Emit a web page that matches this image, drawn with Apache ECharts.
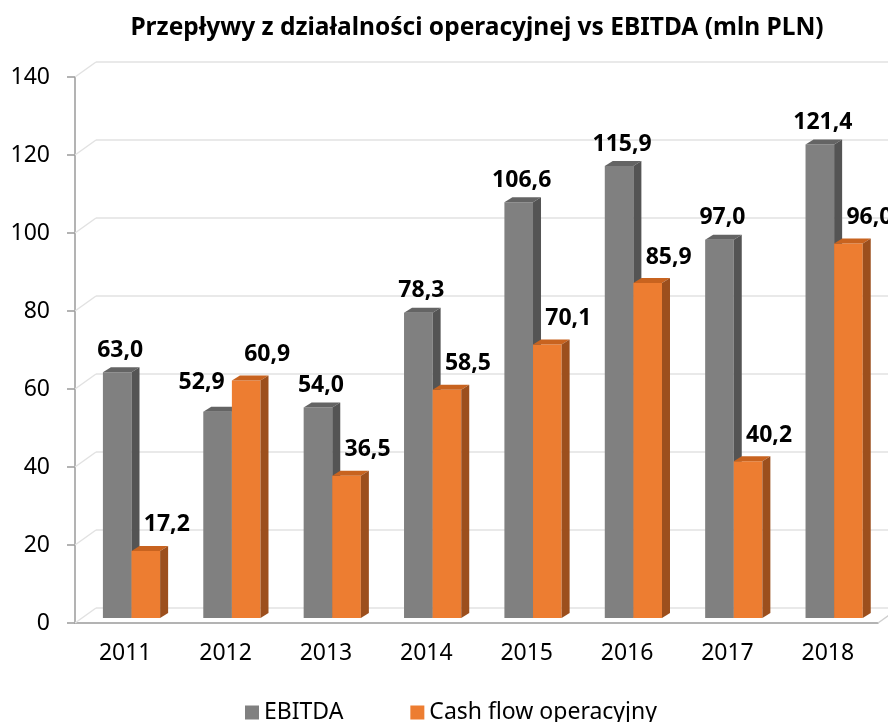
<!DOCTYPE html>
<html>
<head>
<meta charset="utf-8">
<script src="https://cdn.jsdelivr.net/npm/echarts@6/dist/echarts.min.js"></script>
<style>
  html, body { margin: 0; padding: 0; background: #fff; }
  #chart { width: 888px; height: 722px; }
</style>
</head>
<body>
<div id="chart"></div>
<script>
// dane (mln PLN)
const years = ['2011', '2012', '2013', '2014', '2015', '2016', '2017', '2018'];
const ebitda = [63.0, 52.9, 54.0, 78.3, 106.6, 115.9, 97.0, 121.4];
const cashFlow = [17.2, 60.9, 36.5, 58.5, 70.1, 85.9, 40.2, 96.0];
const yTicks = [0, 20, 40, 60, 80, 100, 120, 140];

const FONT = '"Noto Sans", "Open Sans", sans-serif';
const DEPTH_X = 21, DEPTH_Y = 15;   // wall offset
const BAR_DX = 8, BAR_DY = 5;       // bar depth

function fmt(v) {
  return v.toFixed(1).replace('.', ',');
}

// 3d-ish bar: front, top, side + label
function barRenderer(side, colors, labelDx, labelDy) {
  return function (params, api) {
    const i = api.value(0);
    const v = api.value(1);
    const top = api.coord([i, v]);
    const base = api.coord([i, 0]);
    const band = api.size([1, 0])[0];
    const w = band * 0.285;
    const shift = band * 0.063;
    const lift = 5;
    const x0 = side === 'left' ? top[0] + shift - w : top[0] + shift;
    const x1 = x0 + w;
    const yt = top[1] - lift;
    const yb = base[1] - lift;
    let ldx = labelDx, ldy = labelDy;
    if (side === 'left' && years[i] === '2012') { ldx = -16; ldy = -29; }
    return {
      type: 'group',
      children: [
        { type: 'rect', shape: { x: x0, y: yt, width: w, height: yb - yt }, style: { fill: colors[0] } },
        { type: 'polygon', shape: { points: [[x0, yt], [x1, yt], [x1 + BAR_DX, yt - BAR_DY], [x0 + BAR_DX, yt - BAR_DY]] }, style: { fill: colors[1] } },
        { type: 'polygon', shape: { points: [[x1, yt], [x1 + BAR_DX, yt - BAR_DY], [x1 + BAR_DX, yb - BAR_DY], [x1, yb]] }, style: { fill: colors[2] } },
        {
          type: 'text', z2: 10,
          style: {
            text: fmt(v), x: (x0 + x1) / 2 + ldx, y: yt + ldy,
            align: 'center', verticalAlign: 'middle',
            font: 'bold 23px ' + FONT, fill: '#000'
          }
        }
      ]
    };
  };
}

const chart = echarts.init(document.getElementById('chart'));

const option = {
  backgroundColor: '#fff',
  animation: false,
  title: {
    text: 'Przepływy z działalności operacyjnej vs EBITDA (mln PLN)',
    left: 472,
    top: 11,
    textAlign: 'center',
    textStyle: { fontFamily: FONT, fontSize: 24.5, fontWeight: 'bold', color: '#000' }
  },
  legend: {
    data: ['EBITDA', 'Cash flow operacyjny'],
    left: 240,
    top: 696,
    icon: 'rect',
    itemWidth: 14,
    itemHeight: 14,
    itemGap: 67,
    textStyle: { fontFamily: FONT, fontSize: 23, color: '#000' }
  },
  grid: [
    { left: 75, right: 10, top: 77, bottom: 99 },
    { left: 75 + DEPTH_X, right: 10 - DEPTH_X, top: 77 - DEPTH_Y, bottom: 99 + DEPTH_Y }
  ],
  xAxis: [
    {
      type: 'category', gridIndex: 0, data: years,
      axisLine: { lineStyle: { color: '#9a9a9a', width: 1.5 } },
      axisTick: { length: 6, lineStyle: { color: '#9a9a9a', width: 1.5 } },
      axisLabel: { fontFamily: FONT, fontSize: 23, color: '#000', margin: 19 }
    },
    { type: 'category', gridIndex: 1, data: years, show: false }
  ],
  yAxis: [
    {
      type: 'value', gridIndex: 0, min: 0, max: 140, interval: 20,
      axisLine: { show: true, lineStyle: { color: '#9a9a9a', width: 1.5 } },
      axisTick: { show: true, length: 8, lineStyle: { color: '#9a9a9a', width: 1.5 } },
      axisLabel: { fontFamily: FONT, fontSize: 23, color: '#000', margin: 25 },
      splitLine: { show: false }
    },
    {
      type: 'value', gridIndex: 1, min: 0, max: 140, interval: 20,
      axisLine: { show: false }, axisTick: { show: false }, axisLabel: { show: false },
      splitLine: { lineStyle: { color: '#e2e2e2', width: 1.5 } }
    }
  ],
  series: [
    {
      // wall / floor connectors
      type: 'custom', xAxisIndex: 0, yAxisIndex: 0, silent: true, z: 1,
      data: yTicks.map(function (t) { return [0, t]; }),
      encode: { x: 0, y: 1 },
      renderItem: function (params, api) {
        const cs = params.coordSys;
        const y = api.coord([0, api.value(1)])[1];
        const children = [{
          type: 'line',
          shape: { x1: cs.x, y1: y, x2: cs.x + DEPTH_X, y2: y - DEPTH_Y },
          style: { stroke: '#e2e2e2', lineWidth: 1.5 }
        }];
        if (api.value(1) === 0) {
          children.push({
            type: 'line',
            shape: { x1: cs.x + cs.width, y1: y, x2: cs.x + cs.width + DEPTH_X, y2: y - DEPTH_Y },
            style: { stroke: '#cfcfcf', lineWidth: 1.5 }
          });
        }
        return { type: 'group', children: children };
      }
    },
    {
      name: 'EBITDA', type: 'custom', xAxisIndex: 0, yAxisIndex: 0, z: 3, clip: false,
      itemStyle: { color: '#808080' },
      data: ebitda.map(function (v, i) { return [i, v]; }),
      encode: { x: 0, y: 1 },
      renderItem: barRenderer('left', ['#808080', '#646464', '#545454'], 3, -22)
    },
    {
      name: 'Cash flow operacyjny', type: 'custom', xAxisIndex: 0, yAxisIndex: 0, z: 4, clip: false,
      itemStyle: { color: '#ed7d31' },
      data: cashFlow.map(function (v, i) { return [i, v]; }),
      encode: { x: 0, y: 1 },
      renderItem: barRenderer('right', ['#ed7d31', '#c8631f', '#9c4f1d'], 21, -26)
    }
  ]
};

chart.setOption(option);
</script>
</body>
</html>
